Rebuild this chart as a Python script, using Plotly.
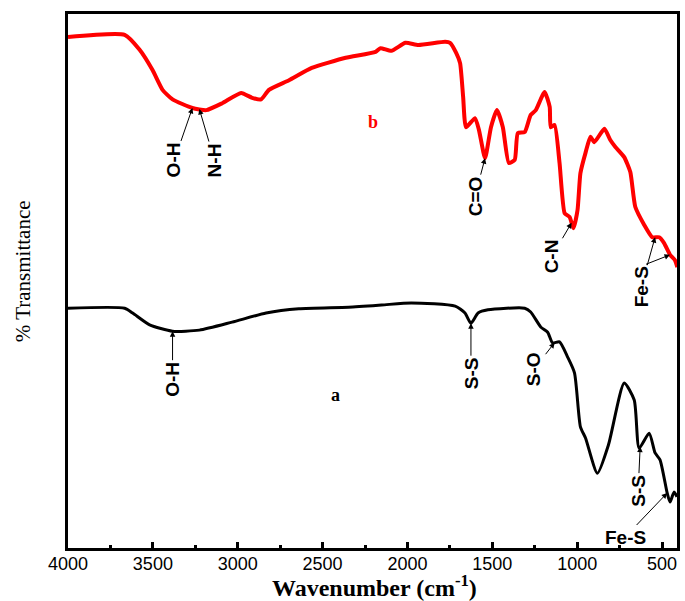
import numpy as np
import plotly.graph_objects as go

# ---- data ----
wn_b = [4000, 3666, 3578, 3502, 3443, 3384, 3267, 3185, 3091, 2980, 2915, 2863, 2816, 2698,
        2564, 2364, 2188, 2159, 2095, 2012, 1936, 1778, 1749, 1713, 1690, 1672, 1655, 1602,
        1579, 1543, 1508, 1473, 1438, 1403, 1368, 1350, 1309, 1274, 1244, 1192, 1162, 1156,
        1133, 1104, 1074, 1045, 1022, 998, 981, 951, 922, 899, 840, 805, 775, 723, 687, 658,
        605, 558, 517, 488, 453, 424, 410]
t_b = [95.7, 96.1, 93.3, 89.5, 85.8, 84.0, 82.4, 82.0, 83.3, 85.2, 84.3, 84.0, 85.8, 87.6,
       89.9, 91.8, 92.9, 93.6, 93.1, 94.6, 94.2, 94.8, 94.6, 92.7, 90.8, 84.5, 78.8, 80.5,
       78.3, 73.0, 78.8, 82.0, 78.8, 72.1, 72.7, 77.7, 77.9, 81.1, 82.0, 85.4, 82.6, 78.8,
       79.2, 72.1, 62.7, 62.0, 59.9, 63.3, 70.2, 74.0, 77.0, 76.0, 78.5, 76.4, 75.1, 73.2,
       70.4, 63.9, 60.5, 58.2, 58.2, 57.1, 54.9, 53.9, 52.6]

wn_a = [4000, 3666, 3619, 3519, 3384, 3226, 3033, 2833, 2640, 2347, 2153, 1977, 1719, 1661,
        1626, 1584, 1526, 1309, 1274, 1215, 1174, 1145, 1104, 1057, 1016, 981, 951, 881, 816,
        723, 664, 635, 576, 541, 512, 470, 453, 429, 412]
t_a = [44.9, 44.9, 44.0, 41.8, 40.6, 40.8, 42.3, 44.0, 44.8, 45.1, 45.5, 45.9, 45.3, 44.0,
       42.1, 44.0, 44.6, 44.9, 44.2, 41.4, 40.4, 38.4, 38.6, 35.8, 32.8, 22.7, 20.6, 14.0, 19.3,
       30.9, 27.7, 18.7, 21.5, 17.8, 16.5, 10.3, 8.6, 10.5, 9.6]

tick_vals = [4000, 3500, 3000, 2500, 2000, 1500, 1000, 500]

# band assignments: (label, wavenumber)
bands_b = [("O-H", 3267), ("N-H", 3226), ("C=O", 1543), ("C-N", 1033), ("Fe-S", 541), (" ", 453)]
bands_a = [("O-H", 3384), ("S-S", 1626), ("S-O", 1133), ("S-S", 629), ("Fe-S", 470)]

# ---- figure ----
fig = go.Figure()
fig.add_trace(go.Scatter(x=wn_a, y=t_a, mode="lines", line=dict(color="black", width=3, shape="spline", smoothing=0.6),
                         showlegend=False, hoverinfo="skip"))
fig.add_trace(go.Scatter(x=wn_b, y=t_b, mode="lines", line=dict(color="#ff0000", width=4, shape="spline", smoothing=0.5),
                         showlegend=False, hoverinfo="skip"))

def interp(series_x, series_y, w):
    xs = np.array(series_x[::-1], dtype=float)
    ys = np.array(series_y[::-1], dtype=float)
    return float(np.interp(w, xs, ys))

lab_font = dict(family="Liberation Sans, Arial", size=19, color="black")
# offsets (pixels) of text centre from arrow tip, and rotation
offs_b = [(-18, 52, -90), (15, 51, -90), (-10, 38, -90), (-20, 34, -90), (-14, 50, -90), (-28, 11, 0)]
offs_a = [(0, 48, -90), (0, 50, -90), (-21, 27, -90), (-2, 44, -90), (-42, 44, 0)]

for (lab, w), (ax, ay, ang) in zip(bands_b, offs_b):
    fig.add_annotation(x=w, y=interp(wn_b, t_b, w), text=("<b>%s</b>" % lab) if lab.strip() else lab,
                       showarrow=True, ax=ax, ay=ay, textangle=ang, font=lab_font,
                       arrowhead=2, arrowsize=1.1, arrowwidth=1, arrowcolor="black", standoff=0, startstandoff=0)
for (lab, w), (ax, ay, ang) in zip(bands_a, offs_a):
    fig.add_annotation(x=w, y=interp(wn_a, t_a, w), text="<b>%s</b>" % lab,
                       showarrow=True, ax=ax, ay=ay, textangle=ang, font=lab_font,
                       arrowhead=2, arrowsize=1.1, arrowwidth=1, arrowcolor="black", standoff=0, startstandoff=0)

# curve labels
fig.add_annotation(x=2206, y=79.8, text="<b>b</b>", showarrow=False,
                   font=dict(family="Liberation Serif, Times New Roman", size=18, color="#ff0000"))
fig.add_annotation(x=2423, y=28.7, text="<b>a</b>", showarrow=False,
                   font=dict(family="Liberation Serif, Times New Roman", size=18, color="black"))

# axis titles as annotations
fig.add_annotation(xref="paper", yref="paper", x=(376 - 68) / 612, y=(548 - 586) / 534,
                   xanchor="center", yanchor="middle",
                   text="<b>Wavenumber (cm<sup>-1</sup>)</b>", showarrow=False,
                   font=dict(family="Liberation Serif, Times New Roman", size=24, color="black"))
fig.add_annotation(xref="paper", yref="paper", x=(23 - 68) / 612, y=(548 - 271) / 534,
                   xanchor="center", yanchor="middle",
                   text="% Transmittance", showarrow=False, textangle=-90,
                   font=dict(family="Liberation Serif, Times New Roman", size=21, color="black"))

fig.update_layout(
    width=685, height=601,
    margin=dict(l=68, r=5, t=14, b=53),
    paper_bgcolor="white", plot_bgcolor="white",
    xaxis=dict(range=[4000, 412], showgrid=False, zeroline=False, showline=True, linecolor="black", linewidth=3,
               mirror=True, ticks="inside", ticklen=6, tickwidth=3, tickcolor="black",
               tickvals=tick_vals, ticktext=[str(v) for v in tick_vals], ticklabelstandoff=-3,
               tickfont=dict(family="Liberation Sans, Arial", size=18, color="black"),
               minor=dict(dtick=250, tick0=0, ticks="inside", ticklen=3, tickwidth=3, tickcolor="black", showgrid=False)),
    yaxis=dict(range=[0, 100], showgrid=False, zeroline=False, showline=True, linecolor="black", linewidth=3,
               mirror=True, showticklabels=False, ticks=""),
)

fig.write_html("out.html")
